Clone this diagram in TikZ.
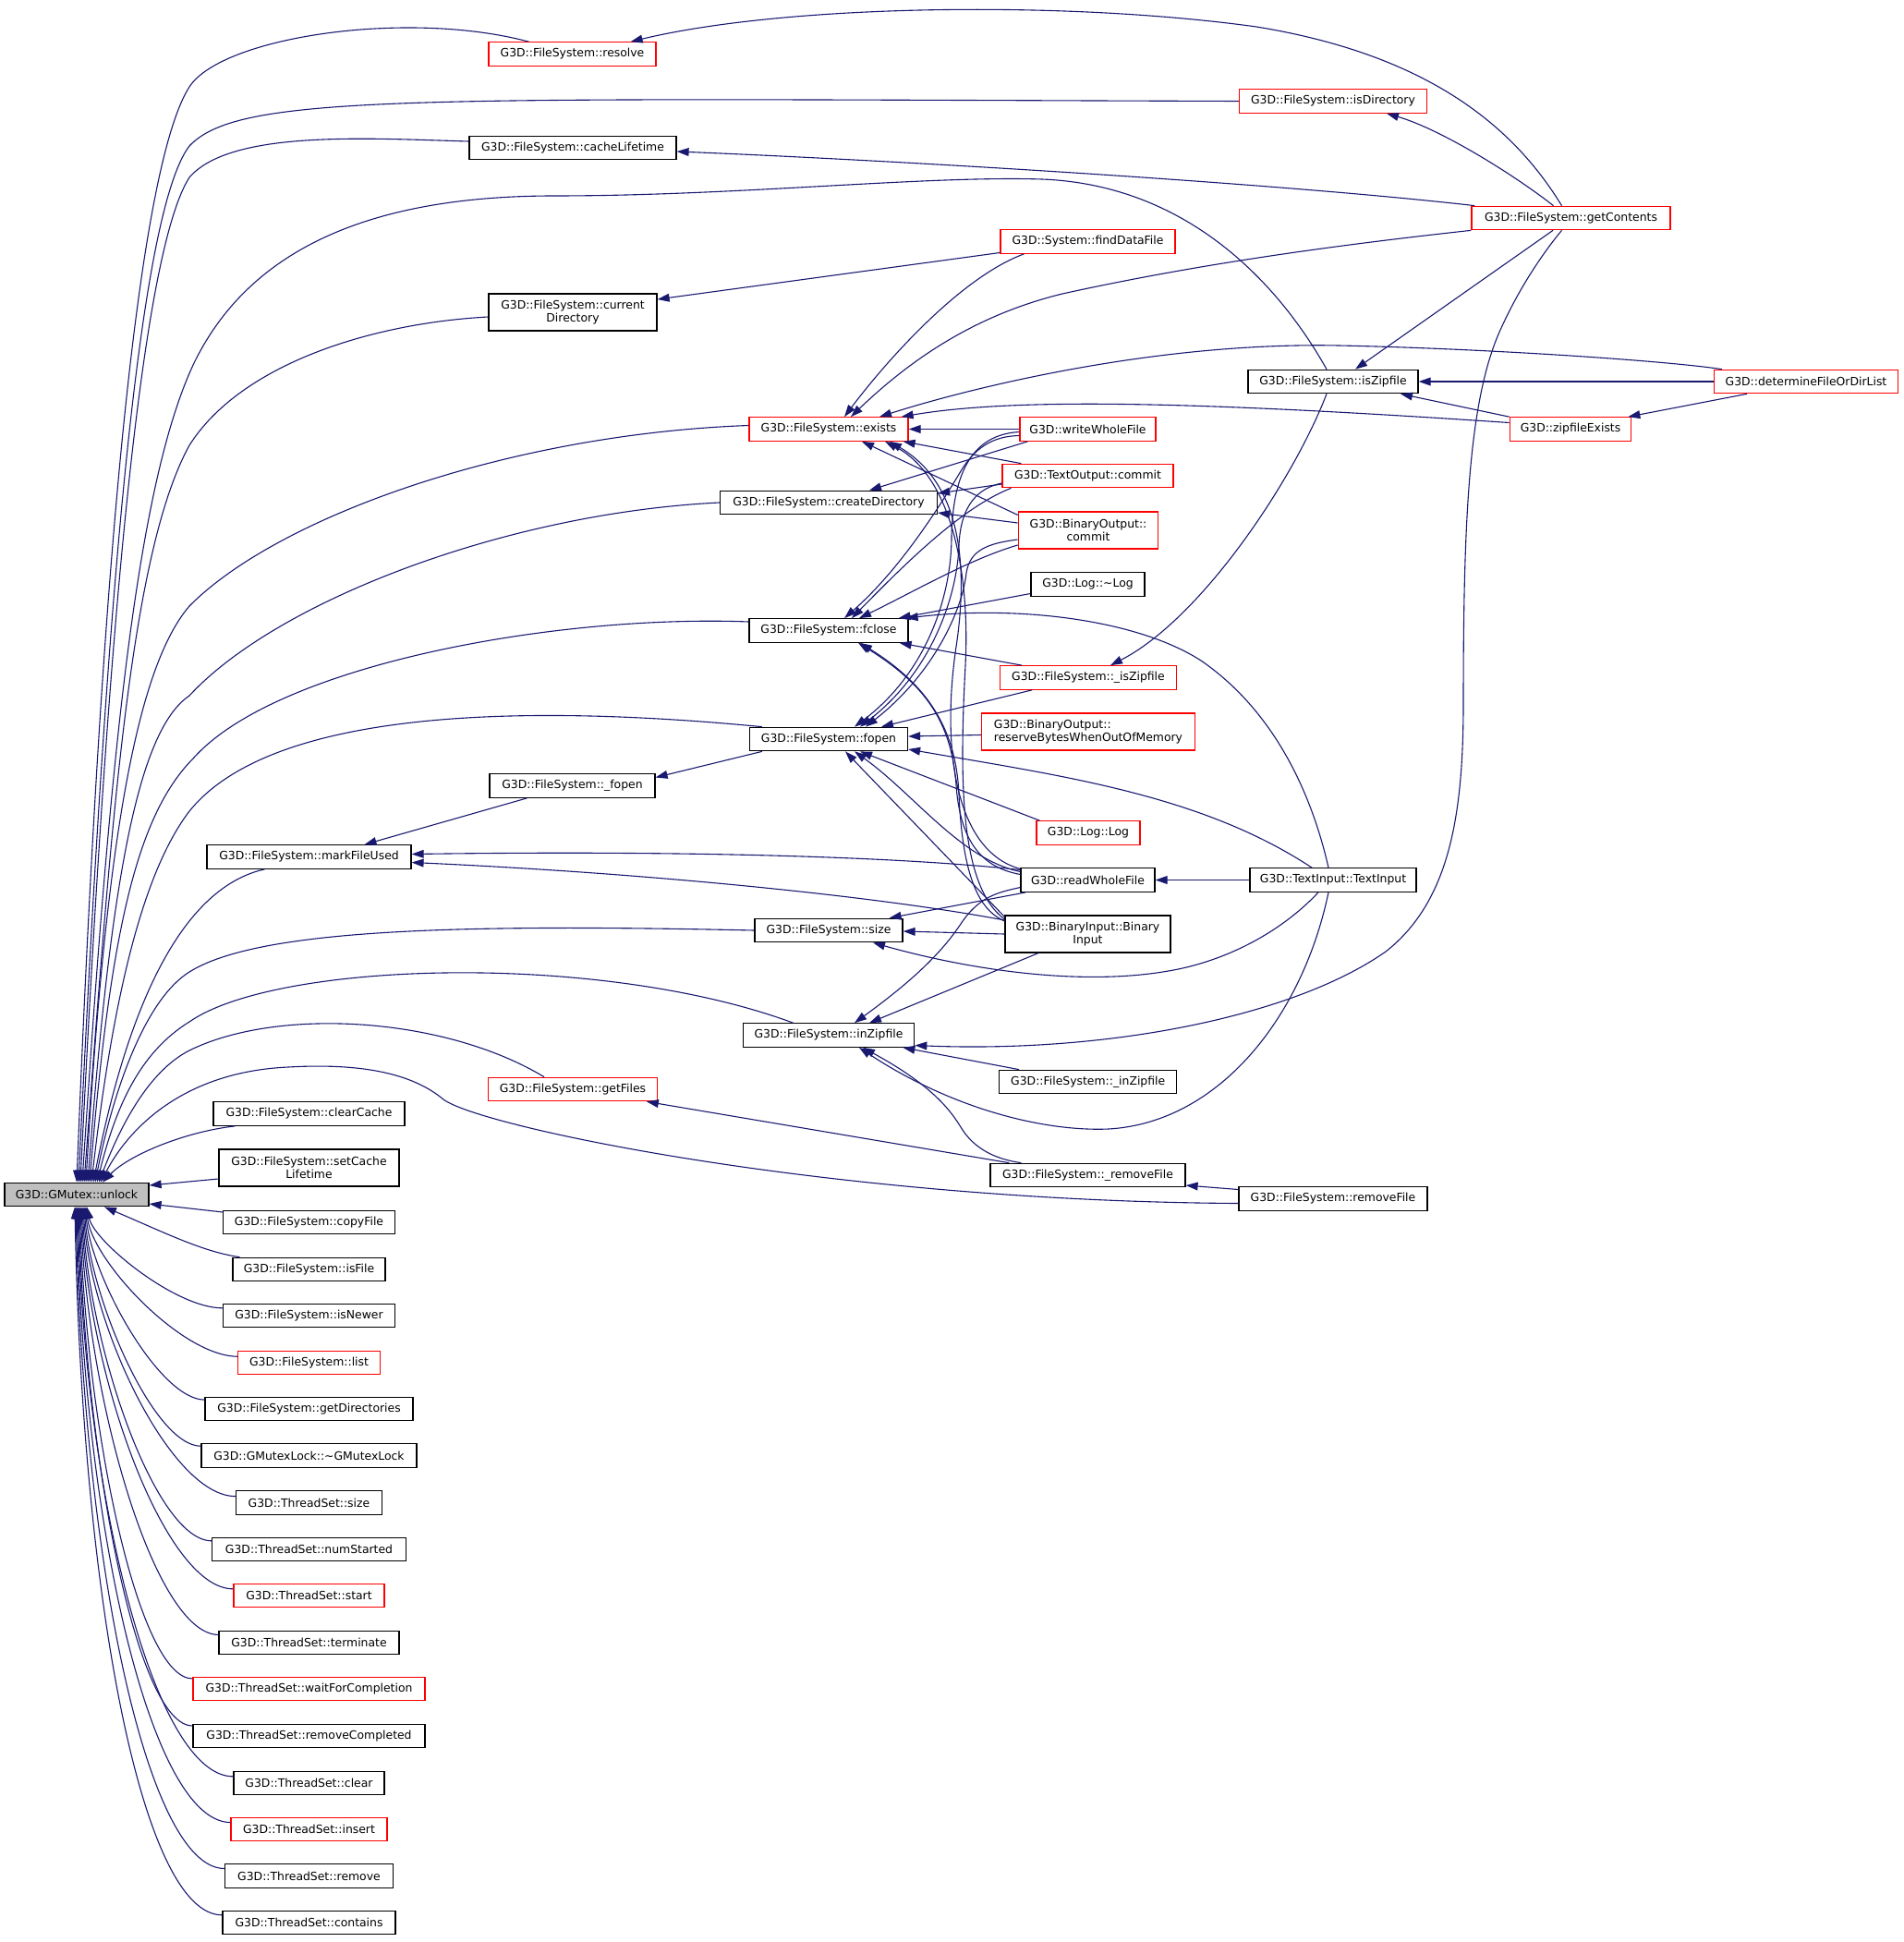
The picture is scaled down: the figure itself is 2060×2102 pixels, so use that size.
\documentclass[tikz,border=0pt]{standalone}
\usepackage{fontspec}
\setmainfont{DejaVu Sans}
\usetikzlibrary{arrows.meta}
\definecolor{edgeblue}{HTML}{191970}
\definecolor{nodegray}{HTML}{BFBFBF}
\newcommand{\gdfont}{\fontsize{6.2pt}{7.2pt}\selectfont}
\tikzset{
  nb/.style={draw=black, line width=0.6pt, fill=white, inner sep=0pt, minimum height=12.75pt, align=center, font=\gdfont},
  rb/.style={nb, draw=red},
  twol/.style={minimum height=20pt},
  edge/.style={draw=edgeblue, line width=0.55pt, {Triangle[length=6.5pt,width=4.4pt]}-},
}
\begin{document}
\begin{tikzpicture}[x=0.5pt,y=-0.5pt]
\useasboundingbox (0,0) rectangle (2060,2102);
% ---------------- nodes ----------------
\node[nb, fill=nodegray, minimum width=78pt] (n-unlock) at (83,1293) {G3D::GMutex::unlock};
\node[rb, minimum width=90.5pt] (n-resolve) at (619.5,58.5) {G3D::FileSystem::resolve};
\node[rb, minimum width=101.5pt] (n-isDirectory) at (1443,109.5) {G3D::FileSystem::isDirectory};
\node[nb, minimum width=112pt] (n-cacheLifetime) at (620,160) {G3D::FileSystem::cacheLifetime};
\node[rb, minimum width=107.5pt] (n-getContents) at (1700.5,236) {G3D::FileSystem::getContents};
\node[rb, minimum width=94.5pt] (n-findDataFile) at (1177.5,261.5) {G3D::System::findDataFile};
\node[nb, twol, minimum width=91pt] (n-currentDirectory) at (620,338) {G3D::FileSystem::current\\Directory};
\node[nb, minimum width=92pt] (n-isZipfile) at (1443,413) {G3D::FileSystem::isZipfile};
\node[rb, minimum width=99.5pt] (n-determine) at (1955,413) {G3D::determineFileOrDirList};
\node[rb, minimum width=86pt] (n-exists) at (897,464.5) {G3D::FileSystem::exists};
\node[rb, minimum width=73.5pt] (n-writeWholeFile) at (1177.5,464.5) {G3D::writeWholeFile};
\node[rb, minimum width=65.75pt] (n-zipfileExists) at (1700,464.5) {G3D::zipfileExists};
\node[rb, minimum width=92.5pt] (n-TextOutput) at (1177.5,515) {G3D::TextOutput::commit};
\node[nb, minimum width=117.5pt] (n-createDirectory) at (897,544) {G3D::FileSystem::createDirectory};
\node[rb, twol, minimum width=75.75pt] (n-BinaryOutput) at (1178,574) {G3D::BinaryOutput::\\commit};
\node[nb, minimum width=61.5pt] (n-Logd) at (1177.5,632.5) {G3D::Log::\textasciitilde Log};
\node[nb, minimum width=86pt] (n-fclose) at (897,682.5) {G3D::FileSystem::fclose};
\node[rb, minimum width=95.25pt] (n-uisZipfile) at (1178,733.5) {G3D::FileSystem::\_isZipfile};
\node[rb, twol, minimum width=115.25pt, align=left] (n-reserve) at (1178,792) {G3D::BinaryOutput::\\reserveBytesWhenOutOfMemory};
\node[nb, minimum width=85.5pt] (n-fopen) at (897,800) {G3D::FileSystem::fopen};
\node[nb, minimum width=89.5pt] (n-ufopen) at (619.5,850.5) {G3D::FileSystem::\_fopen};
\node[rb, minimum width=56pt] (n-LogLog) at (1178,901.5) {G3D::Log::Log};
\node[nb, minimum width=110.5pt] (n-markFileUsed) at (334.5,927.5) {G3D::FileSystem::markFileUsed};
\node[nb, minimum width=72.5pt] (n-readWholeFile) at (1177.5,952.5) {G3D::readWholeFile};
\node[nb, minimum width=90pt] (n-TextInput) at (1443,952.5) {G3D::TextInput::TextInput};
\node[nb, minimum width=80pt] (n-size) at (897,1007) {G3D::FileSystem::size};
\node[nb, twol, minimum width=89.5pt] (n-BinaryInput) at (1177.5,1011) {G3D::BinaryInput::Binary\\Input};
\node[nb, minimum width=92.75pt] (n-inZipfile) at (897,1120.5) {G3D::FileSystem::inZipfile};
\node[nb, minimum width=96pt] (n-uinZipfile) at (1177.7,1171) {G3D::FileSystem::\_inZipfile};
\node[rb, minimum width=91.25pt] (n-getFiles) at (620,1179) {G3D::FileSystem::getFiles};
\node[nb, minimum width=103.5pt] (n-clearCache) at (334.5,1205.5) {G3D::FileSystem::clearCache};
\node[nb, twol, minimum width=97.5pt] (n-setCacheLifetime) at (334.5,1264) {G3D::FileSystem::setCache\\Lifetime};
\node[nb, minimum width=105.5pt] (n-uremoveFile) at (1177.5,1272) {G3D::FileSystem::\_removeFile};
\node[nb, minimum width=102pt] (n-removeFile) at (1443,1297.5) {G3D::FileSystem::removeFile};
\node[nb, minimum width=92.75pt] (n-copyFile) at (334.5,1323) {G3D::FileSystem::copyFile};
\node[nb, minimum width=82.5pt] (n-isFile) at (334.5,1374) {G3D::FileSystem::isFile};
\node[nb, minimum width=92.75pt] (n-isNewer) at (334.5,1424) {G3D::FileSystem::isNewer};
\node[rb, minimum width=76.7pt] (n-list) at (334.5,1475) {G3D::FileSystem::list};
\node[nb, minimum width=112.5pt] (n-getDirectories) at (334.5,1525) {G3D::FileSystem::getDirectories};
\node[nb, minimum width=116.5pt] (n-GMutexLock) at (334.5,1575.5) {G3D::GMutexLock::\textasciitilde GMutexLock};
\node[nb, minimum width=79pt] (n-tsize) at (334.5,1626.5) {G3D::ThreadSet::size};
\node[nb, minimum width=104.75pt] (n-numStarted) at (334.5,1677) {G3D::ThreadSet::numStarted};
\node[rb, minimum width=81.5pt] (n-start) at (334.5,1727) {G3D::ThreadSet::start};
\node[nb, minimum width=97.5pt] (n-terminate) at (334.5,1778) {G3D::ThreadSet::terminate};
\node[rb, minimum width=125.5pt] (n-waitFor) at (334.5,1828) {G3D::ThreadSet::waitForCompletion};
\node[nb, minimum width=125.5pt] (n-removeCompleted) at (334.5,1879) {G3D::ThreadSet::removeCompleted};
\node[nb, minimum width=81.5pt] (n-clear) at (334.5,1930) {G3D::ThreadSet::clear};
\node[rb, minimum width=84.5pt] (n-insert) at (334.5,1980) {G3D::ThreadSet::insert};
\node[nb, minimum width=91pt] (n-remove) at (334.5,2030.5) {G3D::ThreadSet::remove};
\node[nb, minimum width=93.5pt] (n-contains) at (334.5,2081) {G3D::ThreadSet::contains};
% ---------------- edges to unlock (top) ----------------
\draw[edge] ([xshift=0pt]n-unlock.north) .. controls (110,600) and (150,180) .. (205,94) .. controls (240,40) and (440,10) .. ([xshift=22pt]n-resolve.north west);
\draw[edge] ([xshift=1pt]n-unlock.north) .. controls (115,650) and (150,230) .. (205,158) .. controls (260,100) and (450,107) .. (n-isDirectory.west);
\draw[edge] ([xshift=2pt]n-unlock.north) .. controls (118,650) and (155,270) .. (205,192) .. controls (250,140) and (400,150) .. ([yshift=3.5pt]n-cacheLifetime.west);
\draw[edge] ([xshift=3pt]n-unlock.north) .. controls (120,800) and (150,520) .. (210,393) .. controls (270,270) and (400,212) .. (600,212) .. controls (800,212) and (1000,190) .. (1128,194) .. controls (1280,200) and (1380,300) .. ([xshift=-3.5pt]n-isZipfile.north);
\draw[edge] ([xshift=4pt]n-unlock.north) .. controls (120,900) and (140,600) .. (205,482) .. controls (260,395) and (400,350) .. ([yshift=-2.5pt]n-currentDirectory.west);
\draw[edge] ([xshift=5pt]n-unlock.north) .. controls (115,900) and (150,720) .. (205,656) .. controls (300,560) and (550,470) .. ([yshift=2pt]n-exists.west);
\draw[edge] ([xshift=6pt]n-unlock.north) .. controls (120,950) and (150,790) .. (205,753) .. controls (300,650) and (550,555) .. (n-createDirectory.west);
\draw[edge] ([xshift=7pt]n-unlock.north) .. controls (120,1000) and (150,880) .. (210,820) .. controls (300,720) and (600,665) .. ([yshift=4.75pt]n-fclose.west);
\draw[edge] ([xshift=8pt]n-unlock.north) .. controls (120,1100) and (150,950) .. (205,878) .. controls (300,760) and (600,765) .. ([xshift=7pt]n-fopen.north west);
\draw[edge] ([xshift=9pt]n-unlock.north) .. controls (140,1080) and (200,960) .. ([xshift=-24pt]n-markFileUsed.south);
\draw[edge] ([xshift=10pt]n-unlock.north) .. controls (125,1170) and (160,1080) .. (205,1052) .. controls (280,1005) and (500,1000) .. (n-size.west);
\draw[edge] ([xshift=11pt]n-unlock.north) .. controls (125,1200) and (150,1140) .. (205,1106) .. controls (300,1040) and (650,1030) .. ([xshift=-19.25pt]n-inZipfile.north);
\draw[edge] ([xshift=12pt]n-unlock.north) .. controls (130,1220) and (160,1160) .. (205,1137) .. controls (300,1090) and (480,1100) .. ([xshift=-15.5pt]n-getFiles.north);
\draw[edge] ([xshift=13pt]n-unlock.north) .. controls (140,1220) and (200,1160) .. (312,1155) .. controls (400,1150) and (450,1165) .. (480,1190) .. controls (520,1220) and (900,1300) .. ([yshift=-2.5pt]n-removeFile.west);
\draw[edge] ([xshift=14pt]n-unlock.north) .. controls (140,1250) and (200,1225) .. ([xshift=-40pt]n-clearCache.south);
\draw[edge] ([yshift=5pt]n-unlock.east) -- ([yshift=-6pt]n-setCacheLifetime.west);
\draw[edge] ([yshift=-5pt]n-unlock.east) -- ([yshift=5.5pt]n-copyFile.west);
\draw[edge] ([xshift=15pt]n-unlock.south) .. controls (180,1335) and (220,1355) .. ([xshift=-37.5pt]n-isFile.north);
% ---------------- edges to unlock (bottom) ----------------
\draw[edge] ([xshift=5.5pt]n-unlock.south) .. controls (102,1344) and (190,1416) .. (n-isNewer.175);
\draw[edge] ([xshift=5pt]n-unlock.south) .. controls (101,1366) and (197,1468) .. (n-list.175);
\draw[edge] ([xshift=4.5pt]n-unlock.south) .. controls (100,1385) and (173,1515) .. (n-getDirectories.175);
\draw[edge] ([xshift=4pt]n-unlock.south) .. controls (99,1410) and (167,1565) .. (n-GMutexLock.175);
\draw[edge] ([xshift=3.5pt]n-unlock.south) .. controls (98,1438) and (186,1620) .. (n-tsize.175);
\draw[edge] ([xshift=3pt]n-unlock.south) .. controls (97,1462) and (169,1668) .. (n-numStarted.175);
\draw[edge] ([xshift=2.5pt]n-unlock.south) .. controls (96,1492) and (179,1720) .. (n-start.175);
\draw[edge] ([xshift=2pt]n-unlock.south) .. controls (95,1519) and (168,1769) .. (n-terminate.175);
\draw[edge] ([xshift=1.5pt]n-unlock.south) .. controls (94,1551) and (150,1817) .. (n-waitFor.175);
\draw[edge] ([xshift=1pt]n-unlock.south) .. controls (93,1581) and (148,1868) .. (n-removeCompleted.175);
\draw[edge] ([xshift=0.5pt]n-unlock.south) .. controls (92,1621) and (167,1923) .. (n-clear.175);
\draw[edge] ([xshift=0pt]n-unlock.south) .. controls (91,1653) and (163,1972) .. (n-insert.175);
\draw[edge] ([xshift=-0.5pt]n-unlock.south) .. controls (90,1686) and (158,2022) .. (n-remove.175);
\draw[edge] ([xshift=-1pt]n-unlock.south) .. controls (89,1728) and (153,2073) .. (n-contains.175);
% ---------------- other edges ----------------
\draw[edge] ([xshift=-14pt]n-resolve.north east) .. controls (850,5) and (1150,0) .. (1360,29) .. controls (1550,60) and (1640,140) .. ([xshift=-5pt]n-getContents.north);
\draw[edge] ([xshift=29pt]n-isDirectory.south) .. controls (1560,140) and (1640,190) .. ([xshift=-9.5pt]n-getContents.north);
\draw[edge] ([yshift=-2pt]n-cacheLifetime.east) .. controls (1000,175) and (1400,200) .. ([xshift=2pt]n-getContents.north west);
\draw[edge] ([yshift=7pt]n-currentDirectory.east) -- ([yshift=-6pt]n-findDataFile.west);
% exists
\draw[edge] ([xshift=8.5pt]n-exists.north) .. controls (960,390) and (1040,300) .. ([xshift=-34.5pt]n-findDataFile.south);
\draw[edge] ([xshift=12pt]n-exists.north) .. controls (990,385) and (1060,340) .. (1150,318) .. controls (1300,285) and (1450,265) .. (n-getContents.south west);
\draw[edge] ([xshift=27.5pt]n-exists.north) .. controls (1050,420) and (1250,370) .. (1449,374) .. controls (1600,377) and (1800,390) .. ([xshift=4.5pt]n-determine.north west);
\draw[edge] ([xshift=-4pt]n-exists.north east) .. controls (1100,430) and (1300,435) .. ([yshift=3.5pt]n-zipfileExists.west);
\draw[edge] (n-exists.east) -- (n-writeWholeFile.west);
\draw[edge] ([xshift=-3pt]n-exists.south east) -- ([xshift=10.5pt]n-TextOutput.north west);
\draw[edge] ([xshift=18pt]n-exists.south) -- ([yshift=-2pt]n-BinaryOutput.north west);
\draw[edge] ([xshift=33pt]n-exists.south) .. controls (1035,520) and (1050,600) .. (1035,700) .. controls (1020,800) and (1030,920) .. ([yshift=6pt]n-readWholeFile.west);
\draw[edge] ([xshift=30.5pt]n-exists.south) .. controls (1030,515) and (1050,620) .. (1045,720) .. controls (1038,850) and (1040,960) .. ([yshift=8pt]n-BinaryInput.west);
% createDirectory
\draw[edge] ([xshift=22pt]n-createDirectory.north) -- ([xshift=4.5pt]n-writeWholeFile.south west);
\draw[edge] ([yshift=5pt]n-createDirectory.east) -- ([yshift=-4.5pt]n-TextOutput.west);
\draw[edge] ([yshift=-5.5pt]n-createDirectory.east) -- ([yshift=4pt]n-BinaryOutput.west);
% fclose
\draw[edge] ([xshift=8.5pt]n-fclose.north) .. controls (970,620) and (1010,560) .. (1040,510) .. controls (1058,480) and (1080,472) .. ([yshift=-3.5pt]n-writeWholeFile.west);
\draw[edge] ([xshift=12.5pt]n-fclose.north) .. controls (980,610) and (1040,550) .. ([xshift=5pt]n-TextOutput.south west);
\draw[edge] ([xshift=16.5pt]n-fclose.north) .. controls (990,640) and (1050,605) .. ([yshift=-8pt]n-BinaryOutput.west);
\draw[edge] ([xshift=-5.5pt]n-fclose.north east) -- ([yshift=-5pt]n-Logd.west);
\draw[edge] ([xshift=-1.5pt]n-fclose.north east) .. controls (1100,655) and (1230,670) .. (1300,715) .. controls (1380,770) and (1420,860) .. ([xshift=-2.5pt]n-TextInput.north);
\draw[edge] ([xshift=-5pt]n-fclose.south east) -- ([xshift=12pt]n-uisZipfile.north west);
\draw[edge] ([xshift=16pt]n-fclose.south) .. controls (1000,740) and (1030,780) .. (1035,850) .. controls (1040,920) and (1070,940) .. ([yshift=3pt]n-readWholeFile.west);
\draw[edge] ([xshift=17pt]n-fclose.south) .. controls (1005,742) and (1035,790) .. (1038,860) .. controls (1042,950) and (1060,985) .. ([yshift=7pt]n-BinaryInput.west);
% fopen
\draw[edge] ([xshift=14pt]n-fopen.north) .. controls (1000,730) and (1030,650) .. (1030,580) .. controls (1032,500) and (1060,470) .. ([yshift=-1.5pt]n-writeWholeFile.west);
\draw[edge] ([xshift=17pt]n-fopen.north) .. controls (1005,730) and (1036,650) .. (1038,590) .. controls (1040,545) and (1060,528) .. ([yshift=-4pt]n-TextOutput.west);
\draw[edge] ([xshift=20pt]n-fopen.north) .. controls (1010,730) and (1042,660) .. (1046,620) .. controls (1050,595) and (1070,588) .. ([yshift=-5pt]n-BinaryOutput.west);
\draw[edge] ([xshift=28.5pt]n-fopen.north) -- ([xshift=17.5pt]n-uisZipfile.south west);
\draw[edge] ([yshift=1.5pt]n-fopen.east) -- ([yshift=-1.75pt]n-reserve.west);
\draw[edge] ([yshift=-5.5pt]n-fopen.east) .. controls (1150,840) and (1300,860) .. ([xshift=-11.5pt]n-TextInput.north);
\draw[edge] ([xshift=17pt]n-fopen.south) -- ([xshift=2pt]n-LogLog.north west);
\draw[edge] ([xshift=14pt]n-fopen.south) .. controls (990,860) and (1040,930) .. ([yshift=4.5pt]n-readWholeFile.west);
\draw[edge] ([xshift=9pt]n-fopen.south) -- ([yshift=-1pt]n-BinaryInput.north west);
\draw[edge] ([yshift=4.5pt]n-ufopen.east) -- ([xshift=7pt]n-fopen.south west);
% markFileUsed
\draw[edge] ([xshift=30pt]n-markFileUsed.north) -- ([xshift=-24.5pt]n-ufopen.south);
\draw[edge] ([yshift=1.5pt]n-markFileUsed.east) .. controls (700,921) and (950,925) .. ([yshift=5.5pt]n-readWholeFile.west);
\draw[edge] ([yshift=-3pt]n-markFileUsed.east) .. controls (700,945) and (950,970) .. ([yshift=7.5pt]n-BinaryInput.west);
% size
\draw[edge] ([xshift=-7.5pt]n-size.north east) -- ([xshift=3pt]n-readWholeFile.south west);
\draw[edge] ([yshift=-0.5pt]n-size.east) -- (n-BinaryInput.west);
\draw[edge] ([xshift=24pt]n-size.south) .. controls (1050,1050) and (1180,1070) .. (1280,1048) .. controls (1350,1032) and (1400,995) .. ([xshift=-8pt]n-TextInput.south);
% inZipfile
\draw[edge] ([xshift=14pt]n-inZipfile.north) .. controls (990,1060) and (1020,1030) .. (1040,1000) .. controls (1060,970) and (1080,966) .. ([yshift=-4pt]n-readWholeFile.west);
\draw[edge] ([xshift=22pt]n-inZipfile.north) -- ([xshift=-26.75pt]n-BinaryInput.south);
\draw[edge] ([yshift=-5.5pt]n-inZipfile.east) .. controls (1200,1140) and (1400,1100) .. (1500,1030) .. controls (1570,975) and (1584,880) .. (1584,760) .. controls (1584,560) and (1590,430) .. (1625,355) .. controls (1650,300) and (1680,262) .. ([xshift=-5pt]n-getContents.south);
\draw[edge] ([xshift=-6.5pt]n-inZipfile.south east) -- ([xshift=11pt]n-uinZipfile.north west);
\draw[edge] ([xshift=16.5pt]n-inZipfile.south) .. controls (1030,1200) and (1130,1225) .. (1200,1222) .. controls (1320,1215) and (1410,1100) .. ([xshift=-2.5pt]n-TextInput.south);
\draw[edge] ([xshift=18.5pt]n-inZipfile.south) .. controls (1000,1170) and (1025,1195) .. (1040,1220) .. controls (1055,1245) and (1080,1255) .. ([xshift=17pt]n-uremoveFile.north west);
% getFiles, removeFile, readWholeFile
\draw[edge] ([xshift=-6pt]n-getFiles.south east) -- ([xshift=10.5pt]n-uremoveFile.north west);
\draw[edge] ([yshift=-5.5pt]n-uremoveFile.east) -- ([yshift=5pt]n-removeFile.west);
\draw[edge] (n-readWholeFile.east) -- (n-TextInput.west);
% isZipfile
\draw[edge] ([xshift=12pt]n-isZipfile.north) -- ([xshift=-9.75pt]n-getContents.south);
\draw[edge] (n-isZipfile.east) -- (n-determine.west);
\draw[edge] ([xshift=36.5pt]n-isZipfile.south) -- (n-zipfileExists.north west);
\draw[edge] ([xshift=12pt]n-uisZipfile.north) .. controls (1300,670) and (1400,520) .. ([xshift=-3.5pt]n-isZipfile.south);
\draw[edge] ([xshift=-2pt]n-zipfileExists.north east) -- ([xshift=-32pt]n-determine.south);
\end{tikzpicture}
\end{document}
